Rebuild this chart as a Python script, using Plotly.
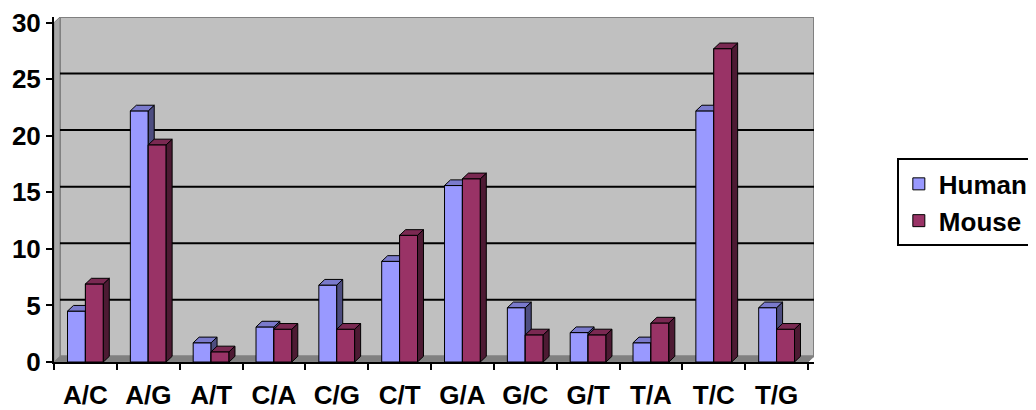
import plotly.graph_objects as go

categories = ["A/C", "A/G", "A/T", "C/A", "C/G", "C/T", "G/A", "G/C", "G/T", "T/A", "T/C", "T/G"]
human = [4.5, 22.2, 1.7, 3.1, 6.8, 8.9, 15.6, 4.8, 2.6, 1.7, 22.2, 4.8]
mouse = [6.9, 19.2, 0.9, 2.9, 2.9, 11.2, 16.2, 2.4, 2.4, 3.45, 27.7, 2.9]
y_ticks = [0, 5, 10, 15, 20, 25, 30]

HUMAN_C = "#9999FF"
MOUSE_C = "#993366"
BARGAP = 0.43
DX, DY = 0.095, 0.5   # depth offsets in data units

FONT = dict(family="Arial, Liberation Sans, sans-serif", size=26, color="black", weight="bold")
LEG_FONT = dict(FONT, size=26)

pos = list(range(len(categories)))
fig = go.Figure()
fig.add_trace(go.Bar(name="Human", x=pos, y=human, marker=dict(color=HUMAN_C, line=dict(color="black", width=1))))
fig.add_trace(go.Bar(name="Mouse", x=pos, y=mouse, marker=dict(color=MOUSE_C, line=dict(color="black", width=1))))

w = (1 - BARGAP) / 2


def faces(values, offset):
    sx, sy, tx, ty, fx, fy = [], [], [], [], [], []
    for i, v in enumerate(values):
        xl = i + offset - w / 2
        xr = i + offset + w / 2
        sx += [xr, xr + DX, xr + DX, xr, xr, None]
        sy += [0, DY, v + DY, v, 0, None]
        tx += [xl, xl + DX, xr + DX, xr, xl, None]
        ty += [v, v + DY, v + DY, v, v, None]
        fx += [xl, xr, xr, xl, xl, None]
        fy += [0, 0, v, v, 0, None]
    return sx, sy, tx, ty, fx, fy


def poly(x, y, color):
    return go.Scatter(x=x, y=y, mode="lines", fill="toself", fillcolor=color,
                      line=dict(color="black", width=1), hoverinfo="skip",
                      showlegend=False)


hsx, hsy, htx, hty, _, _ = faces(human, -w / 2)
msx, msy, mtx, mty, mfx, mfy = faces(mouse, w / 2)
fig.add_trace(poly(hsx, hsy, "#4D4D80"))
fig.add_trace(poly(htx, hty, "#7A7ACC"))
fig.add_trace(poly(mfx, mfy, MOUSE_C))
fig.add_trace(poly(msx, msy, "#4D1A33"))
fig.add_trace(poly(mtx, mty, "#7A2952"))

# walls, floor and back-wall gridlines
x0, x1 = -0.5, len(categories) - 0.5
shapes = [
    dict(type="path", xref="x", yref="y", layer="below",
         path=f"M{x0},{0} L{x0+DX},{DY} L{x1+DX},{DY} L{x1},0 Z",
         fillcolor="#808080", line=dict(color="#808080", width=1)),
    dict(type="rect", xref="x", yref="y", layer="below",
         x0=x0 + DX, x1=x1 + DX, y0=DY, y1=30 + DY,
         fillcolor="#C0C0C0", line=dict(color="#808080", width=2)),
    dict(type="path", xref="x", yref="y", layer="below",
         path=f"M{x0},0 L{x0+DX},{DY} L{x0+DX},{30+DY} L{x0},30 Z",
         fillcolor="#A8A8A8", line=dict(color="#808080", width=1)),
]
for t in y_ticks[1:-1]:
    shapes.append(dict(type="line", xref="x", yref="y", layer="below",
                       x0=x0 + DX, x1=x1 + DX, y0=t + DY, y1=t + DY,
                       line=dict(color="black", width=2)))

boundaries = [i - 0.5 for i in range(len(categories) + 1)]

# the page body adds an 8px margin, so the figure is sized 8px smaller
fig.update_layout(
    width=1028, height=402,
    margin=dict(l=46, r=222, t=9, b=48, autoexpand=False),
    paper_bgcolor="white", plot_bgcolor="white",
    barmode="group", bargap=BARGAP, bargroupgap=0,
    shapes=shapes,
    font=FONT,
    legend=dict(x=1.109, y=0.59, xanchor="left", yanchor="top",
                bordercolor="black", borderwidth=2, bgcolor="white",
                font=LEG_FONT, itemclick=False),
    xaxis=dict(range=[x0, x1 + DX], tickvals=pos, ticktext=categories,
               showgrid=False, showline=True, linecolor="black", zeroline=False,
               linewidth=2, ticks="", tickfont=FONT, ticklabelstandoff=9,
               automargin=False, ticklabeloverflow="allow",
               minor=dict(tickvals=boundaries, ticks="outside", ticklen=6,
                          tickwidth=2, tickcolor="black", showgrid=False)),
    yaxis=dict(range=[0, 30 + DY], tickvals=y_ticks, showgrid=False, showline=True,
               linecolor="black", linewidth=2, ticks="outside", ticklen=6,
               tickwidth=2, tickcolor="black", tickfont=FONT, zeroline=False,
               automargin=False, ticklabeloverflow="allow"),
)

fig.write_html("out.html")
